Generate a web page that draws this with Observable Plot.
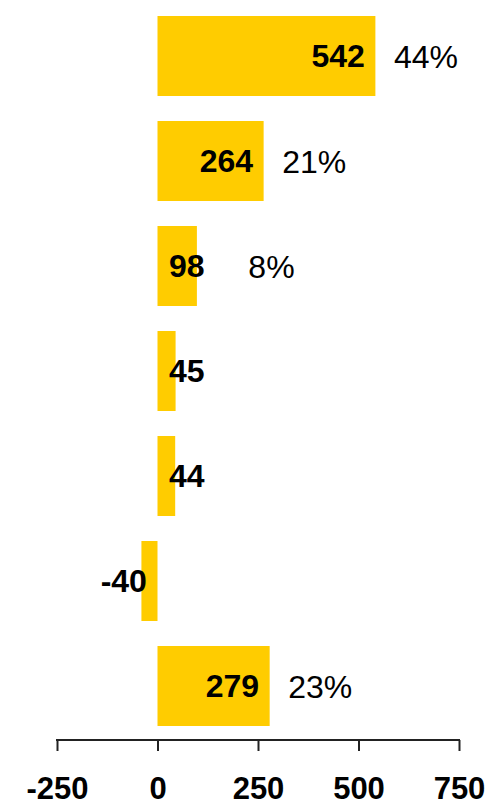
<!DOCTYPE html>
<html>
<head>
<meta charset="utf-8">
<script src="https://cdn.jsdelivr.net/npm/d3@7"></script>
<script src="https://cdn.jsdelivr.net/npm/@observablehq/plot@0.6"></script>
<style>
  html, body { margin: 0; padding: 0; background: #fff; }
  #chart { width: 491px; height: 805px; }
</style>
</head>
<body>
<div id="chart"></div>
<script>
const categories = ["A", "B", "C", "D", "E", "F", "G"];
const values = [542, 264, 98, 45, 44, -40, 279];
const shares = ["44%", "21%", "8%", "", "", "", "23%"];
const xTicks = [-250, 0, 250, 500, 750];

const data = categories.map((c, i) => ({cat: c, value: values[i], share: shares[i]}));
const font = "'Liberation Sans', Arial, sans-serif";

const chart = Plot.plot({
  width: 491,
  height: 805,
  marginTop: 3,
  marginBottom: 65,
  marginLeft: 57,
  marginRight: 32,
  style: {fontFamily: font, background: "#fff", color: "#000"},
  x: {domain: [-250, 750], axis: null, label: null},
  y: {domain: categories, axis: null, paddingInner: 0.234, paddingOuter: 0.1},
  marks: [
    Plot.barX(data, {x: "value", y: "cat", fill: "#FFCC00"}),
    Plot.text(data.filter(d => d.value >= 0), {
      x: d => Math.max(d.value, 143),
      y: "cat",
      text: d => String(d.value),
      textAnchor: "end",
      dx: -11,
      fontSize: 32,
      fontWeight: "bold",
      fill: "#000",
      fontFamily: font
    }),
    Plot.text(data.filter(d => d.value < 0), {
      x: "value",
      y: "cat",
      text: d => String(d.value),
      textAnchor: "end",
      dx: 5,
      fontSize: 32,
      fontWeight: "bold",
      fill: "#000",
      fontFamily: font
    }),
    Plot.text(data.filter(d => d.share), {
      x: d => Math.max(d.value, 180),
      y: "cat",
      text: "share",
      textAnchor: "start",
      dx: 18,
      dy: 1,
      fontSize: 32,
      fill: "#000",
      fontFamily: font
    }),
    Plot.axisX({
      ticks: xTicks,
      tickFormat: d => String(d),
      label: null,
      tickSize: 11,
      tickPadding: 25,
      fontSize: 31,
      fontWeight: "bold",
      fontFamily: font,
      stroke: "#222",
      strokeWidth: 2,
      fill: "#000"
    })
  ]
});

document.getElementById("chart").appendChild(chart);

// axis baseline drawn through the plot's own x scale
const xs = chart.scale("x");
const ns = "http://www.w3.org/2000/svg";
const line = document.createElementNS(ns, "line");
line.setAttribute("x1", xs.apply(xTicks[0]) - 1);
line.setAttribute("x2", xs.apply(xTicks[xTicks.length - 1]) + 1);
line.setAttribute("y1", 740);
line.setAttribute("y2", 740);
line.setAttribute("stroke", "#222");
line.setAttribute("stroke-width", 2);
chart.appendChild(line);
</script>
</body>
</html>
